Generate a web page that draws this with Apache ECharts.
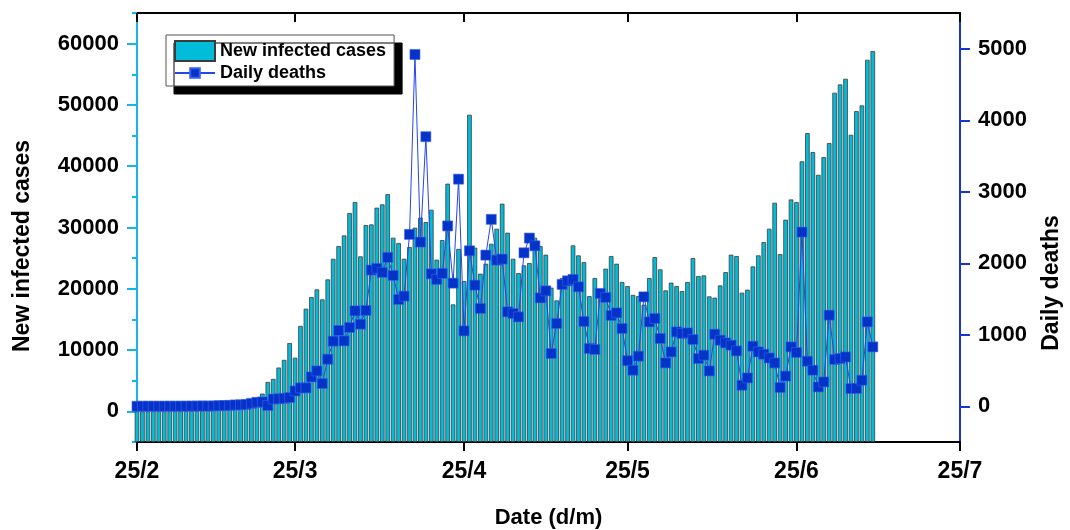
<!DOCTYPE html>
<html><head><meta charset="utf-8">
<script src="https://cdn.jsdelivr.net/npm/echarts@6/dist/echarts.min.js"></script>
<style>html,body{margin:0;padding:0;background:#fff}#c{width:1070px;height:530px}</style>
</head><body><div id="c"></div>
<script>
// Day index 0 = 25/2
const tickDays = [0, 29, 60, 90, 121, 151];
const tickLabels = ['25/2', '25/3', '25/4', '25/5', '25/6', '25/7'];
const leftMajor = [0, 10000, 20000, 30000, 40000, 50000, 60000];
const leftMinor = [-5000, 5000, 15000, 25000, 35000, 45000, 55000, 65000];
const rightMajor = [0, 1000, 2000, 3000, 4000, 5000];

const cases = [
  0, 5, 3, 8, 10, 10, 15, 25, 30, 40, 60, 70, 100, 130, 180, 250, 350, 450, 600, 750,
  950, 1300, 1800, 2900, 4800, 5300, 7150, 8400, 11150, 8750, 13950, 16750, 18650, 19900, 18270, 21530,
  24900, 26970, 28700, 32350, 34150, 25290, 30400, 30500, 33230, 33770, 35450, 28330, 27460, 24900,
  26800, 29970, 31600, 30880, 32900, 24750, 27950, 37150, 17450, 26500, 21260, 48400, 26700, 22460,
  24090, 27350, 29800, 33880, 29150, 24900, 22560, 23820, 24200, 28330, 26970, 25560, 20180, 18100,
  21750, 21900, 27080, 25450, 24350, 18800, 21750, 19200, 23280, 25340, 24090, 21120, 20440, 19000,
  18800, 17400, 21750, 25170, 23160, 19740, 21000, 20440, 19630, 21100, 25000, 22070, 22180, 18760,
  18550, 20550, 22720, 25560, 25340, 19360, 19850, 23650, 25450, 27620, 29800, 34040, 25650, 31270,
  34580, 34150, 40800, 45400, 42300, 38600, 41480, 43770, 51990, 53340, 54270, 45130, 48990, 49920,
  57370, 58780
];
const deaths = [
  0, 0, 0, 0, 0, 0, 1, 0, 1, 1, 2, 3, 4, 3, 4, 8, 10, 12, 18, 20,
  25, 40, 55, 60, 10, 100, 105, 110, 122, 214, 257, 257, 410, 494, 318, 658,
  910, 1060, 914, 1102, 1334, 1148, 1340, 1905, 1928, 1872, 2082, 1830, 1494, 1540,
  2404, 4920, 2296, 3770, 1852, 1774, 1858, 2522, 1722, 3176, 1054, 2174, 1694, 1368,
  2114, 2614, 2044, 2058, 1320, 1298, 1250, 2146, 2352, 2244, 1516, 1614, 738, 1158,
  1704, 1754, 1774, 1670, 1186, 808, 794, 1578, 1522, 1270, 1306, 1088, 637, 504,
  700, 1530, 1180, 1228, 948, 606, 760, 1040, 1018, 1026, 934, 668, 714, 494,
  1008, 924, 886, 854, 774, 294, 396, 840, 760, 728, 675, 606, 262, 422,
  830, 752, 2436, 630, 504, 270, 340, 1274, 654, 668, 690, 248, 250, 364,
  1180, 830
];

const FONT = 'Liberation Sans, Arial, sans-serif';
const CYAN = '#14b6ea';
const BLUE = '#1436d9';
const BAR_FILL = '#00bcd8';
const BAR_EDGE = '#3c3c3c';
const LINE_COLOR = '#2546e8';
const MARK_FILL = '#0533c8';

const chart = echarts.init(document.getElementById('c'), null, {renderer: 'canvas'});
const xCommon = {type: 'value', min: 0, max: 151, splitLine: {show: false}};
const plain = v => String(v);
const legendText = {fontFamily: FONT, fontWeight: 'bold', fontSize: 18, color: '#000'};

chart.setOption({
  backgroundColor: '#ffffff',
  animation: false,
  grid: {left: 137, right: 110, top: 13, bottom: 88, containLabel: false, outerBoundsMode: 'none'},
  legend: [
    {
      orient: 'vertical', left: 166, top: 35,
      padding: [5, 8, 24, 8], itemWidth: 40, itemHeight: 20, itemTextGap: 6,
      backgroundColor: '#ffffff', borderColor: '#555', borderWidth: 1,
      shadowColor: '#000', shadowBlur: 0, shadowOffsetX: 8, shadowOffsetY: 8,
      textStyle: legendText,
      data: [{name: 'New infected cases', icon: 'rect'}]
    },
    {
      orient: 'vertical', left: 166, top: 61, z: 6,
      padding: [3, 8, 3, 8], itemWidth: 40, itemHeight: 12, itemTextGap: 6,
      textStyle: legendText,
      data: ['Daily deaths']
    }
  ],
  xAxis: [
    Object.assign({}, xCommon, {
      position: 'bottom',
      name: 'Date (d/m)', nameLocation: 'middle', nameGap: 65,
      nameTextStyle: {fontFamily: FONT, fontWeight: 'bold', fontSize: 22, color: '#000'},
      axisLine: {onZero: false, lineStyle: {color: '#000', width: 2}},
      axisTick: {customValues: tickDays, length: 9, inside: false, lineStyle: {color: '#000', width: 2}},
      axisLabel: {customValues: tickDays, margin: 18, fontFamily: FONT, fontWeight: 'bold', fontSize: 23, color: '#000',
        formatter: v => tickLabels[tickDays.indexOf(v)] || ''}
    }),
    Object.assign({}, xCommon, {
      position: 'top',
      axisLine: {onZero: false, lineStyle: {color: '#000', width: 2}},
      axisTick: {customValues: tickDays, length: 9, inside: true, lineStyle: {color: '#000', width: 2}},
      axisLabel: {show: false}
    })
  ],
  yAxis: [
    {
      type: 'value', min: -5000, max: 65000, startValue: -5000, position: 'left',
      splitLine: {show: false},
      axisLine: {show: true, onZero: false, lineStyle: {color: CYAN, width: 2}},
      axisTick: {customValues: leftMajor, length: 10, inside: false, lineStyle: {color: CYAN, width: 2}},
      axisLabel: {customValues: leftMajor, margin: 18, formatter: plain,
        fontFamily: FONT, fontWeight: 'bold', fontSize: 22, color: '#000'}
    },
    {
      type: 'value', min: -5000, max: 65000, position: 'left',
      splitLine: {show: false},
      axisLine: {show: false},
      axisTick: {customValues: leftMinor, length: 5, inside: false, lineStyle: {color: CYAN, width: 2}},
      axisLabel: {show: false}
    },
    {
      type: 'value', min: -500, max: 5500, position: 'right',
      splitLine: {show: false},
      axisLine: {show: true, onZero: false, lineStyle: {color: BLUE, width: 2}},
      axisTick: {customValues: rightMajor, length: 10, inside: false, lineStyle: {color: BLUE, width: 2}},
      axisLabel: {customValues: rightMajor, margin: 18, formatter: plain,
        fontFamily: FONT, fontWeight: 'bold', fontSize: 22, color: '#000'}
    }
  ],
  graphic: [
    {type: 'text', x: 23, y: 246, rotation: Math.PI / 2,
      style: {text: 'New infected cases', fontFamily: FONT, fontWeight: 'bold', fontSize: 23, fill: '#000',
        align: 'center', verticalAlign: 'middle'}},
    {type: 'text', x: 1052, y: 283, rotation: Math.PI / 2,
      style: {text: 'Daily deaths', fontFamily: FONT, fontWeight: 'bold', fontSize: 23, fill: '#000',
        align: 'center', verticalAlign: 'middle'}}
  ],
  series: [
    {
      name: 'New infected cases', type: 'bar', xAxisIndex: 0, yAxisIndex: 0,
      data: cases.map((v, i) => [i, v]),
      barWidth: 4.6,
      itemStyle: {color: BAR_FILL, borderColor: BAR_EDGE, borderWidth: 0.8}
    },
    {
      name: 'Daily deaths', type: 'line', xAxisIndex: 0, yAxisIndex: 2,
      data: deaths.map((v, i) => [i, v]),
      symbol: 'rect', symbolSize: 10, showAllSymbol: true,
      lineStyle: {color: LINE_COLOR, width: 1},
      itemStyle: {color: MARK_FILL, borderColor: '#3a5ff0', borderWidth: 0.6}
    }
  ]
});
</script></body></html>
